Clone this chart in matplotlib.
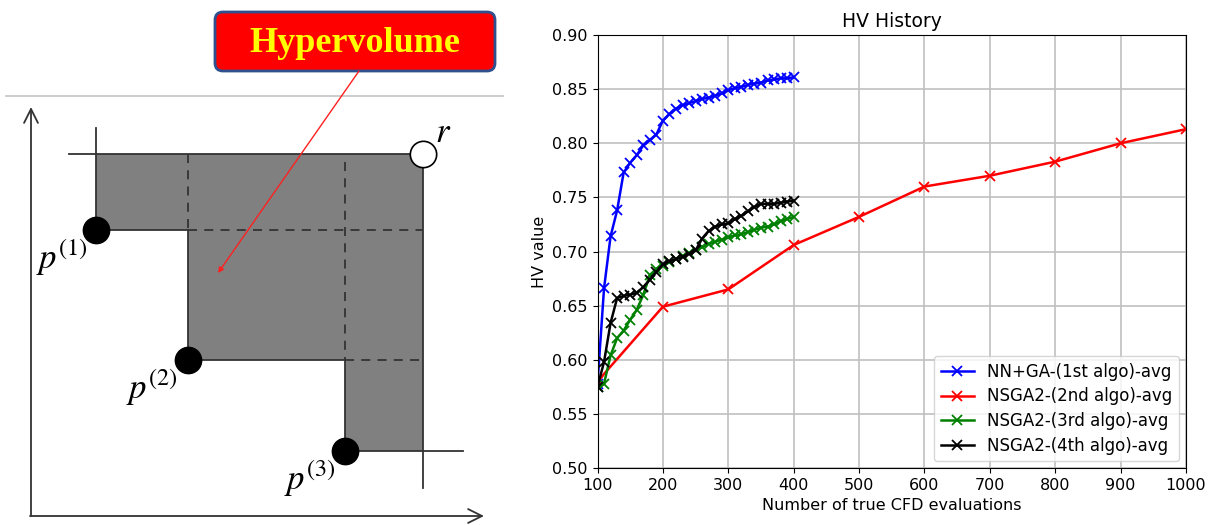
import matplotlib.pyplot as plt
from matplotlib.patches import FancyBboxPatch, Polygon

# ---- hypervolume sketch (pixel-like coordinates) ----
front_x = [96, 188, 345]
front_y = [230, 360, 451]
front_labels = [r"$p^{(1)}$", r"$p^{(2)}$", r"$p^{(3)}$"]
ref_point = (423, 154)

# ---- HV history data ----
evals_dense = [100, 110, 120, 130, 140, 150, 160, 170, 180, 190, 200,
               210, 220, 230, 240, 250, 260, 270, 280, 290, 300,
               310, 320, 330, 340, 350, 360, 370, 380, 390, 400]
evals_sparse = [100, 200, 300, 400, 500, 600, 700, 800, 900, 1000]

hv_nn_ga = [0.578, 0.666, 0.714, 0.738, 0.773, 0.782, 0.789, 0.798, 0.803, 0.808, 0.821,
            0.827, 0.832, 0.835, 0.837, 0.839, 0.841, 0.842, 0.844, 0.846, 0.849,
            0.851, 0.852, 0.854, 0.855, 0.856, 0.858, 0.859, 0.860, 0.860, 0.861]
hv_nsga2_2nd = [0.580, 0.649, 0.665, 0.706, 0.732, 0.760, 0.770, 0.783, 0.800, 0.813]
hv_nsga2_3rd = [0.575, 0.578, 0.604, 0.620, 0.627, 0.637, 0.646, 0.660, 0.678, 0.684, 0.687,
                0.690, 0.693, 0.696, 0.699, 0.701, 0.704, 0.707, 0.709, 0.711, 0.713,
                0.715, 0.716, 0.718, 0.720, 0.722, 0.723, 0.725, 0.728, 0.730, 0.732]
hv_nsga2_4th = [0.575, 0.598, 0.634, 0.657, 0.659, 0.660, 0.662, 0.667, 0.674, 0.681, 0.688,
                0.691, 0.693, 0.695, 0.698, 0.701, 0.712, 0.719, 0.723, 0.725, 0.726,
                0.730, 0.733, 0.737, 0.741, 0.744, 0.744, 0.744, 0.745, 0.746, 0.747]

series = [
    (evals_dense, hv_nn_ga, "b", "NN+GA-(1st algo)-avg"),
    (evals_sparse, hv_nsga2_2nd, "r", "NSGA2-(2nd algo)-avg"),
    (evals_dense, hv_nsga2_3rd, "g", "NSGA2-(3rd algo)-avg"),
    (evals_dense, hv_nsga2_4th, "k", "NSGA2-(4th algo)-avg"),
]

plt.rcParams["mathtext.fontset"] = "stix"

fig = plt.figure(figsize=(12.1, 5.25), dpi=100)

# left panel: hypervolume illustration
ax0 = fig.add_axes([0, 0, 520 / 1210, 1])
ax0.set_xlim(0, 520)
ax0.set_ylim(525, 0)
ax0.axis("off")

ax0.plot([6, 503], [96, 96], color="#c4c4c4", lw=1.2)

# dominated region
x1, x2, x3 = front_x
y1, y2, y3 = front_y
rx, ry = ref_point
region = [(x1, ry), (rx, ry), (rx, y3), (x3, y3), (x3, y2),
          (x2, y2), (x2, y1), (x1, y1)]
ax0.add_patch(Polygon(region, closed=True, facecolor="#808080",
                      edgecolor="none", zorder=1))

dash = dict(color="#333333", lw=1.3, ls=(0, (5, 4)), zorder=2)
ax0.plot([x2, x2], [ry, y1], **dash)
ax0.plot([x2, rx], [y1, y1], **dash)
ax0.plot([x3, x3], [ry + 8, y2], **dash)
ax0.plot([x3, rx - 4], [y2, y2], **dash)

solid = dict(color="#333333", lw=1.3, zorder=3)
ax0.plot([x1, x1], [128, y1], **solid)
ax0.plot([69, rx], [ry, ry], **solid)
ax0.plot([rx, rx], [ry, 488], **solid)
ax0.plot([x3, 463], [y3, y3], **solid)
ax0.plot([x1, x2], [y1, y1], **solid)
ax0.plot([x2, x2], [y1, y2], **solid)
ax0.plot([x2, x3], [y2, y2], **solid)
ax0.plot([x3, x3], [y2, y3], **solid)

# objective axes
ax0.annotate("", xy=(31, 107), xytext=(31, 516),
             arrowprops=dict(arrowstyle="->", color="#333333", lw=1.3,
                             mutation_scale=25, shrinkA=0, shrinkB=0))
ax0.annotate("", xy=(484, 516), xytext=(30, 516),
             arrowprops=dict(arrowstyle="->", color="#333333", lw=1.3,
                             mutation_scale=25, shrinkA=0, shrinkB=0))

ax0.scatter(front_x, front_y, s=360, color="black", zorder=5)
ax0.scatter([rx], [ry], s=360, facecolor="white", edgecolor="black",
            lw=1.2, zorder=5)
label_offsets = [(-34, 28), (-36, 28), (-35, 28)]
for px, py, lab, (dx, dy) in zip(front_x, front_y, front_labels, label_offsets):
    ax0.text(px + dx, py + dy, lab, fontsize=25, ha="center", va="center",
             zorder=6)
ax0.text(rx + 20, ry - 22, r"$r$", fontsize=25, ha="center", va="center")

# label box with pointer
ax0.add_patch(FancyBboxPatch((219, 16), 272, 51,
                             boxstyle="round,pad=4,rounding_size=8",
                             facecolor="#ff0000", edgecolor="#2f4f8f",
                             lw=2, zorder=6))
ax0.text(355, 43, "Hypervolume", fontsize=26, fontweight="bold",
         family="Liberation Serif", color="#ffff00", ha="center",
         va="center", zorder=7)
ax0.annotate("", xy=(218, 273), xytext=(359, 71),
             arrowprops=dict(arrowstyle="-|>", color="#ff2020", lw=1.0,
                             mutation_scale=8, shrinkA=0, shrinkB=0),
             zorder=6)

# right panel: HV history
ax = fig.add_axes([597.5 / 1210, 1 - 468 / 525, (1186 - 597.5) / 1210,
                   (468 - 35) / 525])
for xs, ys, c, lab in series:
    ax.plot(xs, ys, color=c, marker="x", markersize=7, markeredgewidth=1.3,
            lw=1.8, label=lab)

ax.set_xlim(100, 1000)
ax.set_ylim(0.50, 0.90)
ax.set_xticks(evals_sparse)
ax.set_yticks([0.50, 0.55, 0.60, 0.65, 0.70, 0.75, 0.80, 0.85, 0.90])
ax.grid(True, color="#c0c0c0", lw=1.2)
ax.tick_params(labelsize=11.5)
ax.set_xlabel("Number of true CFD evaluations", fontsize=11.5)
ax.set_ylabel("HV value", fontsize=11.5)
ax.set_title("HV History", fontsize=13.5)
ax.legend(loc="lower right", fontsize=12, labelspacing=0.4,
          handlelength=2.0, borderaxespad=0.4)

fig.savefig("out.png", dpi=100)
